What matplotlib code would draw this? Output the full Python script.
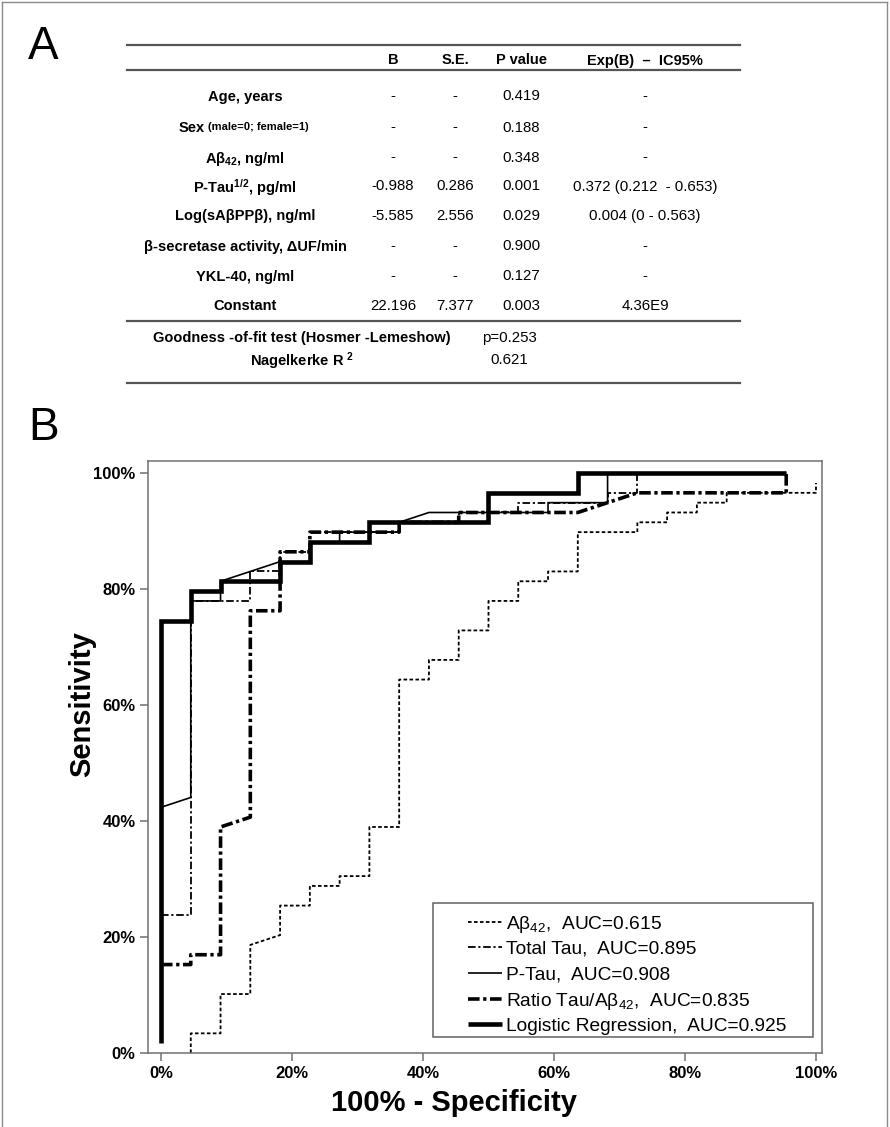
import matplotlib
matplotlib.use("Agg")
import matplotlib.pyplot as plt
from matplotlib.lines import Line2D
from matplotlib.patches import Rectangle
import numpy as np

plt.rcParams['font.family'] = 'Liberation Sans'
plt.rcParams['mathtext.fontset'] = 'custom'
plt.rcParams['mathtext.default'] = 'regular'

# Table (panel A) ##############################################################

header = ["B", "S.E.", "P value", "Exp(B)  \u2013  IC95%"]
row_labels = [
    "Age, years",
    "Sex",
    "A\u03b2$_{42}$, ng/ml",
    "P-Tau$^{1/2}$, pg/ml",
    "Log(sA\u03b2PP\u03b2), ng/ml",
    "\u03b2-secretase activity, \u0394UF/min",
    "YKL-40, ng/ml",
    "Constant",
]
sex_note = "(male=0; female=1)"
col_b = ["-", "-", "-", "-0.988", "-5.585", "-", "-", "22.196"]
col_se = ["-", "-", "-", "0.286", "2.556", "-", "-", "7.377"]
col_p = ["0.419", "0.188", "0.348", "0.001", "0.029", "0.900", "0.127", "0.003"]
col_exp = ["-", "-", "-", "0.372 (0.212  - 0.653)", "0.004 (0 - 0.563)", "-", "-", "4.36E9"]
fit_labels = ["Goodness -of-fit test (Hosmer -Lemeshow)", "Nagelkerke R $^{2}$"]
fit_values = ["p=0.253", "0.621"]

# ROC curves (panel B): points as (false positives, true positives) ############

n_neg = 22
n_pos = 59

abeta_fp = [1, 1, 2, 2, 3, 3, 4, 4, 5, 5, 6, 6, 7, 7, 8, 8, 9, 9, 10, 10, 11, 11, 12, 12,
            13, 13, 14, 14, 16, 16, 17, 17, 18, 18, 19, 19, 22, 22]
abeta_tp = [0, 2, 2, 6, 6, 11, 12, 15, 15, 17, 17, 18, 18, 23, 23, 38, 38, 40, 40, 43, 43, 46, 46, 48,
            48, 49, 49, 53, 53, 54, 54, 55, 55, 56, 56, 57, 57, 58]

ttau_fp = [0, 1, 1, 3, 3, 4, 4, 5, 5, 8, 8, 10, 10, 12, 12, 15, 15, 16, 16, 21]
ttau_tp = [14, 14, 46, 46, 49, 49, 51, 51, 53, 53, 54, 54, 55, 55, 56, 56, 57, 57, 59, 59]

ptau_fp = [0, 1, 1, 2, 2, 4, 5, 5, 6, 6, 8, 8, 9, 13, 13, 15, 15, 21]
ptau_tp = [25, 26, 46, 46, 48, 50, 50, 52, 52, 53, 53, 54, 55, 55, 56, 56, 59, 59]

ratio_fp = [0, 1, 1, 2, 2, 3, 3, 4, 4, 5, 5, 8, 8, 10, 10, 14, 16, 21, 21]
ratio_tp = [9, 9, 10, 10, 23, 24, 45, 45, 51, 51, 53, 53, 54, 54, 55, 55, 57, 57, 59]

logreg_fp = [0, 0, 1, 1, 2, 2, 4, 4, 5, 5, 7, 7, 11, 11, 14, 14, 21]
logreg_tp = [1, 44, 44, 47, 47, 48, 48, 50, 50, 52, 52, 54, 54, 57, 57, 59, 59]

curve_labels = [
    "A\u03b2$_{42}$,  AUC=0.615",
    "Total Tau,  AUC=0.895",
    "P-Tau,  AUC=0.908",
    "Ratio Tau/A\u03b2$_{42}$,  AUC=0.835",
    "Logistic Regression,  AUC=0.925",
]

# Figure ######################################################################

W, H = 890, 1127
fig = plt.figure(figsize=(W / 100, H / 100), dpi=100)


def fx(px):
    return px / W


def fy(py):
    return 1 - py / H


# outer frame
for xs, ys in [([2, 2], [2, H]), ([2, 887], [2, 2]), ([887, 887], [2, H])]:
    fig.add_artist(Line2D([fx(v) for v in xs], [fy(v) for v in ys], color='#8a8a8a', lw=1.0))

fig.text(fx(43), fy(47), "A", fontsize=33, ha='center', va='center')
fig.text(fx(44), fy(428), "B", fontsize=33, ha='center', va='center')

# table rules
for yl in [45, 70, 321, 383]:
    fig.add_artist(Line2D([fx(127), fx(740)], [fy(yl), fy(yl)], color='#555555', lw=1.6))

cx_label, cx_b, cx_se, cx_p, cx_exp = 245, 393, 455, 521, 645
fs_lab = 10.5
fs_val = 10.8

for cx, txt in zip([cx_b, cx_se, cx_p, cx_exp], header):
    fig.text(fx(cx), fy(59), txt, fontsize=fs_lab, fontweight='bold', ha='center', va='center_baseline')

row_y = [95, 126, 156, 185, 215, 245, 275, 305]
for i, yr in enumerate(row_y):
    if row_labels[i] == "Sex":
        fig.text(fx(205), fy(yr), "Sex", fontsize=fs_lab, fontweight='bold', ha='right', va='center_baseline')
        fig.text(fx(208), fy(yr), sex_note, fontsize=8, fontweight='bold', ha='left', va='center_baseline')
    else:
        fig.text(fx(cx_label), fy(yr), row_labels[i], fontsize=fs_lab, fontweight='bold',
                 ha='center', va='center_baseline')
    for cx, col in zip([cx_b, cx_se, cx_p, cx_exp], [col_b, col_se, col_p, col_exp]):
        fig.text(fx(cx), fy(yr), col[i], fontsize=fs_val, ha='center', va='center_baseline')

for yr, lab, val in zip([337, 358], fit_labels, fit_values):
    fig.text(fx(302), fy(yr), lab, fontsize=fs_lab, fontweight='bold', ha='center', va='center_baseline')
    fig.text(fx(509), fy(yr), val, fontsize=fs_val, ha='center', va='center_baseline')

# ROC axes
ax_l, ax_r, ax_t, ax_b = 148, 822, 461, 1053
ax = fig.add_axes([fx(ax_l), fy(ax_b), (ax_r - ax_l) / W, (ax_b - ax_t) / H])


def axx(px):
    return (px - ax_l) / (ax_r - ax_l)


def axy(py):
    return (ax_b - py) / (ax_b - ax_t)


styles = [
    dict(lw=1.3, ls=(0, (2.0, 1.3))),
    dict(lw=1.3, ls=(0, (4.2, 1.5, 1.2, 1.5))),
    dict(lw=1.2, ls='-'),
    dict(lw=2.6, ls=(0, (3.2, 1.0, 0.9, 1.0))),
    dict(lw=3.3, ls='-'),
]
curves = [(abeta_fp, abeta_tp), (ttau_fp, ttau_tp), (ptau_fp, ptau_tp),
          (ratio_fp, ratio_tp), (logreg_fp, logreg_tp)]

for (fp, tp), st in zip(curves, styles):
    x = 100 * np.array(fp) / n_neg
    y = 100 * np.array(tp) / n_pos
    ax.plot(x, y, color='black', linewidth=st['lw'], linestyle=st['ls'],
            dash_capstyle='butt', solid_joinstyle='miter', solid_capstyle='butt')

ax.set_xlim(-1.985, 100.92)
ax.set_ylim(0, 102.1)
ticks = [0, 20, 40, 60, 80, 100]
ax.set_xticks(ticks)
ax.set_yticks(ticks)
ax.set_xticklabels([f"{t}%" for t in ticks], fontsize=12, fontweight='bold')
ax.set_yticklabels([f"{t}%" for t in ticks], fontsize=12, fontweight='bold')
ax.tick_params(direction='out', length=6, width=1.1, color='#707070', pad=3)
for sp in ax.spines.values():
    sp.set_color('#707070')
    sp.set_linewidth(1.1)

fig.text(fx(82), fy(704), "Sensitivity", fontsize=21, fontweight='bold', rotation=90,
         ha='center', va='center')
fig.text(fx(454), fy(1103), "100% - Specificity", fontsize=21, fontweight='bold',
         ha='center', va='center')

# legend: box plus one sample line and label per curve
ax.add_patch(Rectangle((axx(432.7), axy(1036.7)), axx(813.3) - axx(432.7),
                       axy(902.7) - axy(1036.7), transform=ax.transAxes, fill=False,
                       ec='#606060', lw=1.1, zorder=3))
for i, (st, lab) in enumerate(zip(styles, curve_labels)):
    yrow = 921.7 + i * 25.6
    ax.add_line(Line2D([axx(468), axx(502)], [axy(yrow), axy(yrow)], transform=ax.transAxes,
                       color='black', linewidth=st['lw'], linestyle=st['ls'],
                       dash_capstyle='butt', solid_capstyle='butt'))
    ax.text(axx(506), axy(yrow), lab, transform=ax.transAxes, fontsize=13.8,
            ha='left', va='center_baseline')

fig.savefig("out.png", dpi=100)
